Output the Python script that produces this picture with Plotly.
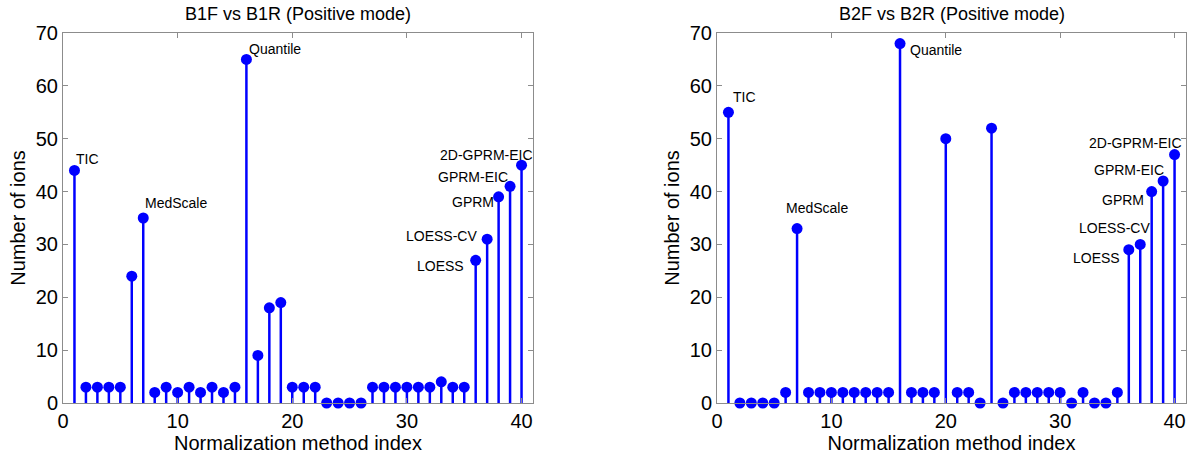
import plotly.graph_objects as go

# ---------------- data ----------------
method_index = list(range(1, 41))

b1_ions = [44, 3, 3, 3, 3, 24, 35, 2, 3, 2,
           3, 2, 3, 2, 3, 65, 9, 18, 19, 3,
           3, 3, 0, 0, 0, 0, 3, 3, 3, 3,
           3, 3, 4, 3, 3, 27, 31, 39, 41, 45]

b2_ions = [55, 0, 0, 0, 0, 2, 33, 2, 2, 2,
           2, 2, 2, 2, 2, 68, 2, 2, 2, 50,
           2, 2, 0, 52, 0, 2, 2, 2, 2, 2,
           0, 2, 0, 0, 2, 29, 30, 40, 42, 47]

panel_titles = ["B1F vs B1R (Positive mode)", "B2F vs B2R (Positive mode)"]
x_title = "Normalization method index"
y_title = "Number of ions"
x_ticks = [0, 10, 20, 30, 40]
y_ticks = [0, 10, 20, 30, 40, 50, 60, 70]

label_index = [1, 7, 16, 36, 37, 38, 39, 40]
label_text = ["TIC", "MedScale", "Quantile", "LOESS", "LOESS-CV", "GPRM", "GPRM-EIC", "2D-GPRM-EIC"]

# label placement styles: (xanchor, xshift px, yshift px)
b1_label_style = [("left", 0, 11), ("left", 0, 15), ("left", 1, 10),
                  ("right", -10, -6), ("right", -8, 3), ("right", -3, -5),
                  ("right", 0, 9), ("right", 13, 10)]
b2_label_style = [("left", 3, 15), ("left", -13, 21), ("left", 8, -6),
                  ("right", -7, -8), ("right", 12, 16), ("right", -6, -8),
                  ("right", 3, 11), ("right", 9, 12)]

BLUE = "#0000ff"
GRAY = "#8c8c8c"
FONT = "Liberation Sans, Arial, sans-serif"

W, H = 1200, 472

fig = go.Figure()

panels = [(b1_ions, b1_label_style, "x", "y", [63 / W, 533 / W]),
          (b2_ions, b2_label_style, "x2", "y2", [717 / W, 1186 / W])]
ydom = [1 - 403 / H, 1 - 33 / H]

annotations = []
for p, (vals, styles, xr, yr, xdom) in enumerate(panels):
    sx, sy = [], []
    for i, v in zip(method_index, vals):
        sx += [i, i, None]
        sy += [0, v, None]
    fig.add_trace(go.Scatter(x=sx, y=sy, mode="lines", xaxis=xr, yaxis=yr,
                             line=dict(color=BLUE, width=2.5), showlegend=False,
                             hoverinfo="skip", cliponaxis=False))
    fig.add_trace(go.Scatter(x=method_index, y=vals, mode="markers", xaxis=xr, yaxis=yr,
                             marker=dict(color=BLUE, size=11, line=dict(width=0)),
                             showlegend=False, cliponaxis=False))
    for idx, txt, (xa, xs, ys) in zip(label_index, label_text, styles):
        annotations.append(dict(x=idx, y=vals[idx - 1], xref=xr, yref=yr, text=txt,
                                showarrow=False, xanchor=xa, yanchor="middle",
                                xshift=xs, yshift=ys,
                                font=dict(family=FONT, size=14, color="black")))
    xc = (xdom[0] + xdom[1]) / 2
    annotations.append(dict(x=xc, y=1 - 14 / H, xref="paper", yref="paper",
                            text=panel_titles[p], showarrow=False,
                            xanchor="center", yanchor="middle",
                            font=dict(family=FONT, size=18, color="black")))

axis_common = dict(showline=True, linecolor=GRAY, linewidth=1, mirror="ticks",
                   ticks="inside", ticklen=5, tickcolor=GRAY, showgrid=False,
                   zeroline=False, tickfont=dict(family=FONT, size=20, color="black"))

xt = dict(text=x_title, font=dict(family=FONT, size=20, color="black"), standoff=0)
yt = dict(text=y_title, font=dict(family=FONT, size=20, color="black"), standoff=4)

fig.update_layout(
    width=W, height=H,
    margin=dict(l=0, r=0, t=0, b=0),
    paper_bgcolor="white", plot_bgcolor="white",
    annotations=annotations,
    xaxis=dict(domain=panels[0][4], range=[0, 41], tickvals=x_ticks, anchor="y",
               title=xt, automargin=False, **axis_common),
    yaxis=dict(domain=ydom, range=[0, 70], tickvals=y_ticks, anchor="x",
               title=yt, automargin=False, **axis_common),
    xaxis2=dict(domain=panels[1][4], range=[0, 41], tickvals=x_ticks, anchor="y2",
                title=xt, automargin=False, **axis_common),
    yaxis2=dict(domain=ydom, range=[0, 70], tickvals=y_ticks, anchor="x2",
                title=yt, automargin=False, **axis_common),
)

# remove the browser's default 8px body margin so the figure fills the window exactly
fig.write_html("out.html",
               config={"displayModeBar": False},
               post_script="document.body.style.margin='0';document.body.style.overflow='hidden';")
